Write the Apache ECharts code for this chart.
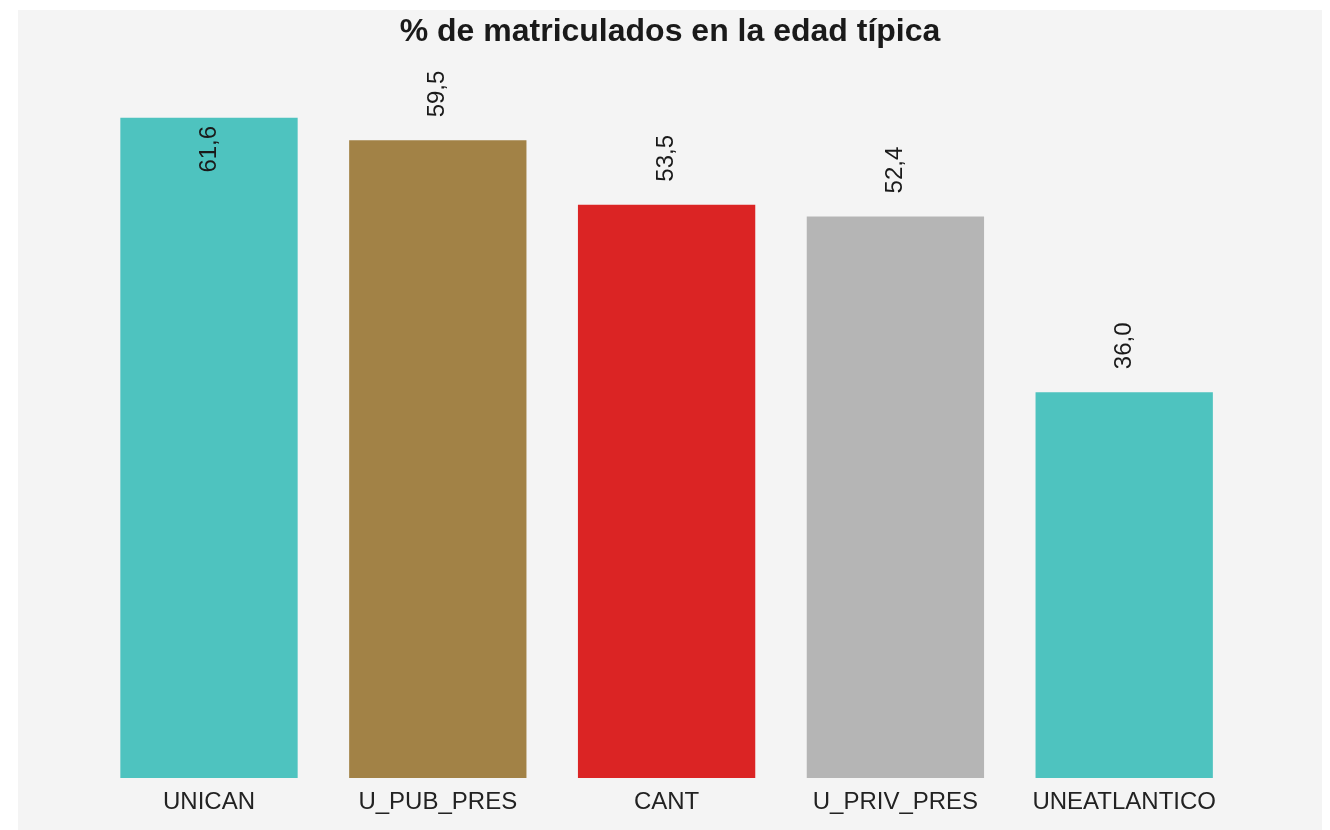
<!DOCTYPE html>
<html>
<head>
<meta charset="utf-8">
<script src="https://cdn.jsdelivr.net/npm/echarts@6/dist/echarts.min.js"></script>
<style>
  html, body { margin: 0; padding: 0; background: #ffffff; }
  #chart { position: absolute; left: 18px; top: 10px; width: 1304px; height: 820px; }
</style>
</head>
<body>
<div id="chart"></div>
<script>
const categories = ['UNICAN', 'U_PUB_PRES', 'CANT', 'U_PRIV_PRES', 'UNEATLANTICO']
const values = [61.6, 59.5, 53.5, 52.4, 36.0]
const barColors = ['#4ec3bf', '#a28246', '#db2424', '#b5b5b5', '#4ec3bf']
const insideLabel = ['UNICAN']

const font = '"Liberation Sans", Arial, sans-serif'

const chart = echarts.init(document.getElementById('chart'))

const option = {
  backgroundColor: '#f4f4f4',
  animation: false,
  title: {
    text: '% de matriculados en la edad típica',
    left: 'center',
    top: 1,
    textStyle: { color: '#1a1a1a', fontSize: 32, fontWeight: 'bold', fontFamily: font },
  },
  grid: {
    left: 76.6,
    right: 83.4,
    top: 50,
    bottom: 52,
  },
  xAxis: {
    type: 'category',
    data: categories,
    axisLine: { show: false },
    axisTick: { show: false },
    axisLabel: {
      interval: 0,
      hideOverlap: false,
      color: '#222',
      fontSize: 24,
      fontFamily: font,
      margin: 12,
    },
  },
  yAxis: {
    type: 'value',
    min: 0,
    max: 67,
    show: false,
  },
  series: [
    {
      type: 'bar',
      barCategoryGap: '22.5%',
      data: values.map((v, i) => {
        const item = { value: v, itemStyle: { color: barColors[i] } }
        if (insideLabel.includes(categories[i])) {
          item.label = { position: 'insideTop', align: 'right', distance: 8 }
        }
        return item
      }),
      label: {
        show: true,
        position: 'top',
        rotate: 90,
        align: 'left',
        verticalAlign: 'middle',
        distance: 23,
        color: '#1a1a1a',
        fontSize: 24,
        fontFamily: font,
        formatter: (p) => p.value.toFixed(1).replace('.', ','),
      },
    },
  ],
}

chart.setOption(option)
</script>
</body>
</html>
